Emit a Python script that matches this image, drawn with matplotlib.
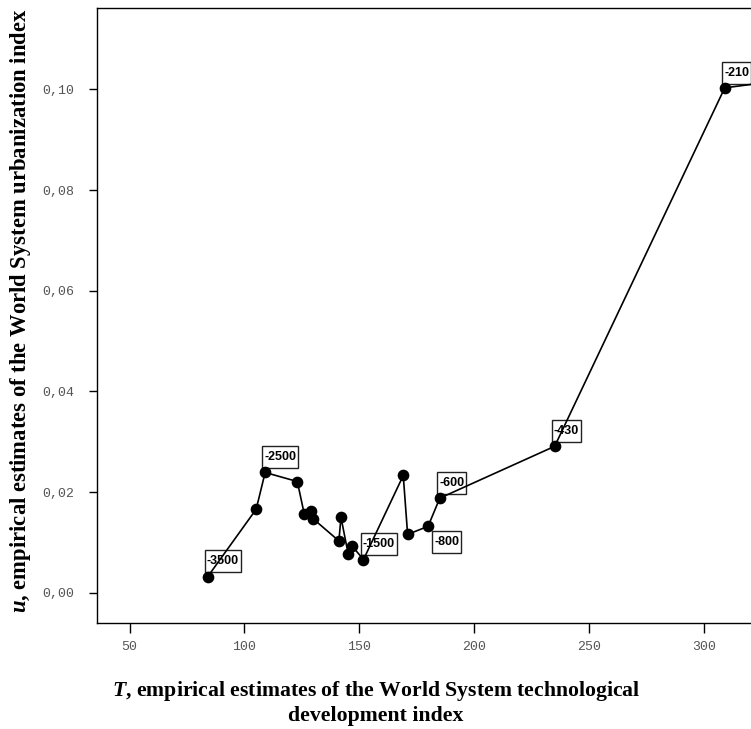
import matplotlib.pyplot as plt
from matplotlib.patches import Rectangle
from matplotlib.transforms import IdentityTransform
import numpy as np

plt.rcParams['mathtext.fontset'] = 'custom'
plt.rcParams['mathtext.bfit'] = 'Liberation Serif:italic:bold'
plt.rcParams['mathtext.rm'] = 'Liberation Serif:bold'

# T (technology index) and u (urbanization index)
T = [84.0, 105.1, 109.0, 123.0, 126.0, 129.0, 129.9, 141.1, 142.0, 145.1,
     147.0, 151.8, 169.1, 171.0, 179.9, 185.0, 235.0, 309.0, 400.0]
u = [0.0032, 0.0166, 0.0239, 0.0221, 0.0157, 0.0162, 0.0147, 0.0103, 0.0150, 0.0078,
     0.0092, 0.0066, 0.0233, 0.0116, 0.0132, 0.0188, 0.0291, 0.1003, 0.1057]
# year labels for some of the points (index -> label)
labels = {0: '-3500', 2: '-2500', 11: '-1500', 14: '-800', 15: '-600', 16: '-430', 17: '-210'}
below = [14]

xticks = [50, 100, 150, 200, 250, 300]
yticks = [0.00, 0.02, 0.04, 0.06, 0.08, 0.10]

fig = plt.figure(figsize=(7.51, 7.29), dpi=100)
ax = fig.add_axes([96.7/751, 1-623/729, 700/751, (623-8.3)/729])

ax.plot(T, u, 'k-', lw=1.2, marker='o', ms=7.4, mfc='k', mec='k', zorder=3)

# label box: 22 px tall, 2 px side padding
px, bh = 2.0, 22.0
texts = []
for i, s in labels.items():
    if i in below:
        off = ((4.4 + px)*0.72, -(4.3 + bh/2)*0.72)
    else:
        off = ((-2.7 + px)*0.72, (4.3 + bh/2)*0.72)
    t = ax.annotate(s, (T[i], u[i]), xytext=off, textcoords='offset points',
                    ha='left', va='center', fontsize=9, fontweight='bold',
                    family='Liberation Sans', color='k',
                    annotation_clip=False, zorder=4)
    texts.append(t)

ax.set_xlim(35.7, 35.7 + 700/2.298)
ax.set_ylim(-0.0060, 0.1161)
ax.set_xticks(xticks)
ax.set_xticklabels([str(t) for t in xticks])
ax.set_yticks(yticks)
ax.set_yticklabels([('%.2f' % v).replace('.', ',') for v in yticks])
for lab in ax.get_xticklabels() + ax.get_yticklabels():
    lab.set_family('Liberation Mono')
    lab.set_fontsize(9.5)
    lab.set_color('#555555')
ax.tick_params(axis='x', length=7, width=1, pad=6)
ax.tick_params(axis='y', length=6, width=1, pad=10)
for sp in ax.spines.values():
    sp.set_linewidth(1)

# white boxes behind the year labels, the line is drawn over them
fig.canvas.draw()
r = fig.canvas.get_renderer()
for t in texts:
    bb = t.get_window_extent(r)
    cy = 0.5*(bb.y0 + bb.y1)
    ax.add_patch(Rectangle((bb.x0 - px, cy - bh/2), bb.width + 2*px, bh,
                           transform=IdentityTransform(), fc='white', ec='#222222',
                           lw=1, zorder=2, clip_on=False))

fig.text(376/751, 1-691/729, r'$\mathbfit{T}$, empirical estimates of the World System technological',
         ha='center', va='center', family='Liberation Serif', fontweight='bold', fontsize=15.7)
fig.text(376/751, 1-716/729, 'development index',
         ha='center', va='center', family='Liberation Serif', fontweight='bold', fontsize=15.7)
fig.text(21/751, 1-311/729, r'$\mathbfit{u}$, empirical estimates of the World System urbanization index',
         ha='center', va='center', rotation=90, family='Liberation Serif', fontweight='bold', fontsize=16.3)

fig.savefig('out.png', dpi=100)
